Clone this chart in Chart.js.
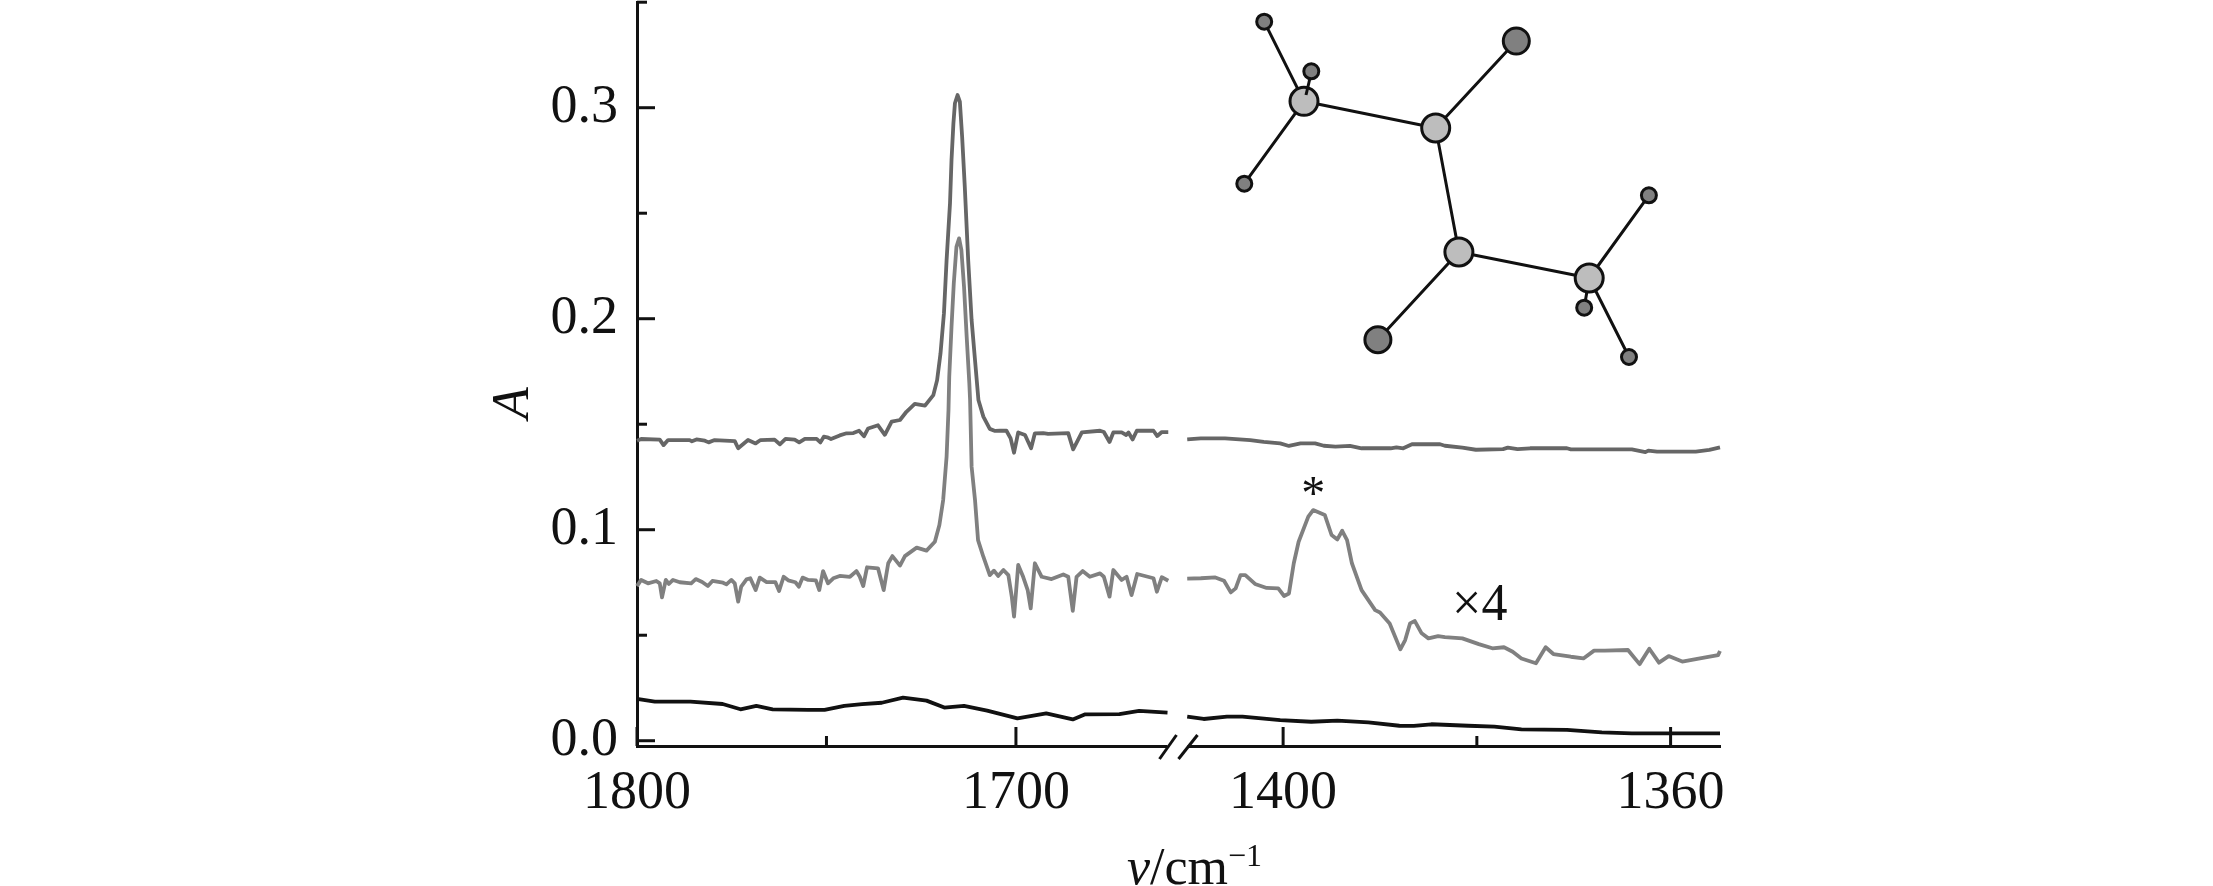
<!DOCTYPE html>
<html>
<head>
<meta charset="utf-8">
<title>IR spectrum</title>
<script src="https://cdn.jsdelivr.net/npm/chart.js@4/dist/chart.umd.min.js"></script>
<style>
    html, body { margin: 0; padding: 0; background: #fff; }
    canvas { display: block; }
</style>
</head>
<body>
<canvas id="chart" width="2213" height="886"></canvas>
<script>
// --- DATA: spectra, left panel (1800-1660) and right panel (1410-1355) ---
const nuTopLeft = [1800, 1798.9, 1794, 1793, 1791.8, 1786.1, 1785.5, 1784.3, 1782.1, 1781.1, 1779.5, 1774.2, 1773.3, 1770.7, 1768.7, 1767.4, 1763.7, 1762.3, 1760.8, 1758.4, 1757.2, 1755.7, 1752.6, 1751.6, 1750.7, 1749.8, 1748.8, 1746.5, 1744.7, 1742.9, 1741.4, 1740.1, 1739, 1736.4, 1734.6, 1732.8, 1730.6, 1728.9, 1726.7, 1724, 1721.8, 1720.8, 1719.9, 1719, 1718.3, 1717.4, 1717, 1716.5, 1716.1, 1715.4, 1714.8, 1714.2, 1713.5, 1712.6, 1711.7, 1710.8, 1709.9, 1708.6, 1706.9, 1705.5, 1704.2, 1702.5, 1701.4, 1700.5, 1699.4, 1697.6, 1696, 1695, 1692.8, 1691.5, 1686.2, 1684.9, 1682.6, 1677.8, 1676.8, 1675.3, 1674.3, 1672.1, 1670.9, 1670.3, 1669.2, 1668.1, 1663.7, 1662.7, 1661.5, 1659.8];
const aTopLeft = [.1422, .143, .1427, .1401, .1425, .1425, .1419, .1428, .1422, .1414, .1425, .142, .1386, .1425, .1409, .1425, .1427, .1405, .1431, .1427, .1414, .1431, .1431, .1414, .1441, .1438, .143, .1447, .1457, .1458, .1469, .1443, .148, .1495, .145, .1512, .152, .1559, .1596, .1588, .1638, .1709, .1836, .2025, .2278, .2547, .2752, .2926, .3021, .306, .3029, .2863, .2626, .2278, .1994, .1804, .1615, .1536, .1478, .1468, .1469, .1469, .1433, .1365, .1461, .1449, .1386, .1457, .1458, .1454, .1458, .1381, .1461, .1469, .1463, .1416, .1461, .1461, .1449, .1461, .1428, .1469, .1469, .1444, .1463, .1463];

const nuMidLeft = [1800, 1798.9, 1797.1, 1794.9, 1794, 1793.4, 1792.4, 1791.6, 1790.5, 1788.7, 1785.7, 1784.5, 1782.8, 1781.3, 1780.1, 1777.3, 1776.4, 1775.1, 1774.2, 1773.3, 1772.5, 1771.1, 1770.1, 1768.7, 1767.6, 1765.8, 1763.5, 1762.5, 1761.3, 1760.1, 1758.2, 1757.3, 1756.3, 1754.8, 1752.8, 1751.9, 1750.9, 1749.6, 1748.2, 1746.5, 1743.8, 1742.1, 1741.2, 1740.3, 1739.3, 1736.4, 1734.9, 1733.7, 1732.6, 1730.6, 1729.3, 1726.2, 1723.6, 1721.4, 1720.2, 1719.2, 1718.3, 1717.8, 1717.6, 1717, 1716.4, 1715.7, 1715, 1714.4, 1713.7, 1713, 1712.3, 1712.1, 1711.7, 1710.8, 1710, 1708.6, 1706.9, 1705.8, 1704.7, 1703.3, 1702, 1701.1, 1700.5, 1699.4, 1698.1, 1696.9, 1696.1, 1695, 1693.2, 1690.6, 1687.5, 1686.2, 1685, 1684, 1682.4, 1680.5, 1677.8, 1676.8, 1675.3, 1674.3, 1672.1, 1670.8, 1669.5, 1668, 1663.7, 1662.8, 1661.5, 1659.8];
const aMidLeft = [.0733, .0762, .0746, .0757, .0746, .0679, .0762, .0743, .0762, .0751, .0746, .0766, .0752, .0733, .0757, .0749, .0741, .0762, .0746, .0659, .073, .0765, .077, .0714, .0773, .0752, .0752, .071, .0777, .076, .0751, .073, .0773, .0762, .076, .0714, .0804, .0746, .077, .0781, .0777, .0804, .0777, .0733, .0822, .0817, .0714, .0841, .0875, .083, .0875, .0915, .0901, .0943, .1022, .1141, .1346, .1567, .1725, .1962, .2168, .2341, .2381, .2326, .2152, .1915, .1694, .1615, .1299, .1141, .0951, .0872, .0785, .0806, .0781, .0809, .0785, .0683, .0588, .0833, .0777, .0714, .0627, .0841, .0777, .0766, .0788, .0777, .0616, .0777, .0804, .0777, .0793, .0777, .0683, .0809, .0762, .0777, .069, .079, .077, .0706, .0775, .0758];

const nuLowLeft = [1800, 1795.3, 1785.9, 1777.4, 1772.7, 1768.5, 1764.2, 1754.8, 1750.5, 1745.3, 1740.6, 1735.4, 1729.8, 1723.6, 1718.9, 1713.7, 1707.6, 1699.6, 1692, 1685, 1681.7, 1672.7, 1667.5, 1660];
const aLowLeft = [.0198, .0185, .0185, .0174, .0149, .0165, .0149, .0146, .0146, .0165, .0173, .018, .0204, .019, .0157, .0165, .0143, .0106, .013, .0101, .0125, .0126, .0141, .0133];

const nuTopRight = [1409.9, 1408.5, 1406, 1403.4, 1402, 1400.3, 1399.4, 1398.2, 1396.7, 1395.8, 1394.6, 1393.1, 1391.9, 1388.9, 1388.3, 1387.6, 1386.7, 1383.8, 1383.3, 1381.5, 1380.1, 1377.3, 1376.8, 1375.8, 1374.5, 1370.7, 1370.3, 1364, 1362.6, 1362.3, 1361.4, 1357.4, 1356, 1354.9];
const aTopRight = [.1428, .1433, .1433, .1425, .1416, .1409, .1397, .1409, .1409, .1398, .1394, .1397, .1386, .1386, .139, .1386, .1405, .1405, .1398, .1389, .1379, .1382, .1389, .1382, .1386, .1386, .1381, .1381, .1368, .1375, .137, .137, .1378, .139];

const nuMidRight = [1409.9, 1408.5, 1407, 1406.1, 1405.4, 1404.9, 1404.4, 1403.9, 1402.9, 1401.7, 1400.5, 1399.9, 1399.4, 1398.9, 1398.4, 1397.4, 1396.9, 1395.7, 1395, 1394.4, 1393.9, 1393.4, 1392.9, 1391.9, 1390.5, 1390, 1389, 1387.9, 1387.4, 1386.9, 1386.4, 1385.7, 1385, 1384, 1383.3, 1381.5, 1379.8, 1378.4, 1377.2, 1376.3, 1375.4, 1373.9, 1372.9, 1372.1, 1370.3, 1369, 1367.9, 1366.8, 1364.4, 1363.2, 1362.2, 1361.2, 1360.2, 1358.8, 1356.4, 1355.1, 1354.9];
const aMidRight = [.0768, .077, .0774, .0758, .0703, .0722, .0785, .0785, .0743, .0724, .0722, .0686, .0698, .0841, .0943, .1062, .1093, .107, .0975, .0954, .0995, .0951, .0841, .0714, .0619, .0608, .0556, .0433, .0477, .0556, .0567, .0509, .0485, .0496, .0491, .0485, .0458, .0438, .0443, .0422, .039, .0367, .0443, .0411, .0398, .039, .0427, .0427, .043, .0363, .0436, .037, .0401, .0375, .0395, .0406, .0425];

const nuLowRight = [1409.9, 1408.2, 1405.8, 1404.2, 1400.3, 1397.1, 1394.4, 1391.2, 1388, 1386.5, 1384.7, 1380.9, 1378.2, 1375.4, 1370.7, 1367.1, 1364, 1354.9];
const aLowRight = [.0114, .0103, .0114, .0114, .0098, .009, .0095, .0087, .0071, .007, .0078, .0071, .0067, .0054, .0051, .004, .0035, .0035];

// --- DATA: ticks ---
const xLeftTicks = [1800, 1750, 1700];
const xLeftLabels = [1800, 1700];
const xRightTicks = [1400, 1380, 1360];
const xRightLabels = [1400, 1360];
const yTicks = [0, 0.05, 0.1, 0.15, 0.2, 0.25, 0.3, 0.35];
const yLabels = [0, 0.1, 0.2, 0.3];

// --- DATA: molecule inset (own 0-1083 / 0-744 frame) ---
const atomNames = ['C1', 'C2', 'C3', 'C4', 'O1', 'O2', 'H1', 'H2', 'H3', 'H4', 'H5', 'H6'];
const atomX = [667, 798.7, 821.9, 952.2, 879.3, 740.9, 627.2, 674.3, 607.3, 1011.9, 947.2, 992];
const atomY = [99.3, 126, 250, 276, 39, 337.7, 19.7, 69.3, 181.7, 193.3, 305.7, 355];
const bonds = [['H1', 'C1'], ['H3', 'C1'], ['C1', 'C2'], ['C2', 'O1'], ['C2', 'C3'], ['C3', 'O2'], ['C3', 'C4'], ['C4', 'H4'], ['C4', 'H5'], ['C4', 'H6']];
const frontBondX = [673, 669];
const frontBondY = [76, 93];

const FONT = '"Liberation Serif", "Times New Roman", serif';
const INK = '#111';

function points(xs, ys) {
    return xs.map((x, i) => ({ x: x, y: ys[i] }));
}

function spectrum(xs, ys, color, axis, order) {
    return {
        data: points(xs, ys), xAxisID: axis, yAxisID: 'y', order: order,
        borderColor: color, borderWidth: 3.8, pointRadius: 0, tension: 0,
        borderJoinStyle: 'round', clip: false
    };
}

const atomPoint = name => {
    const i = atomNames.indexOf(name);
    return { x: atomX[i], y: atomY[i] };
};
const bondPoints = [];
bonds.forEach(b => bondPoints.push(atomPoint(b[0]), atomPoint(b[1]), { x: null, y: null }));

// --- PLUGIN: inner ticks, axis break and the mixed-style text ---
const decorations = {
    id: 'decorations',
    afterDraw(chart) {
        const ctx = chart.ctx;
        const { x, x2, y } = chart.scales;
        const bottom = chart.chartArea.bottom;
        const left = chart.chartArea.left;
        ctx.save();

        // ticks point into the plot, labelled ones are longer
        ctx.strokeStyle = INK;
        ctx.lineWidth = 3;
        [x, x2].forEach(scale => scale.ticks.forEach(t => {
            const px = scale.getPixelForValue(t.value);
            ctx.beginPath();
            ctx.moveTo(px, bottom);
            ctx.lineTo(px, bottom - (t.label ? 19 : 10));
            ctx.stroke();
        }));
        y.ticks.forEach(t => {
            const py = y.getPixelForValue(t.value);
            ctx.beginPath();
            ctx.moveTo(left, py);
            ctx.lineTo(left + (t.label ? 18 : 10), py);
            ctx.stroke();
        });

        // axis break
        const b = x.right;
        ctx.fillStyle = '#fff';
        ctx.fillRect(b - 11, bottom - 3, 20, 6);
        [[-19, -2], [0, 19]].forEach(s => {
            ctx.beginPath();
            ctx.moveTo(b + s[0], bottom + 13);
            ctx.lineTo(b + s[1], bottom - 11);
            ctx.stroke();
        });

        // annotations on the curve
        ctx.fillStyle = INK;
        ctx.textBaseline = 'alphabetic';
        ctx.textAlign = 'center';
        ctx.font = `48px ${FONT}`;
        ctx.fillText('*', x2.getPixelForValue(1396.9), y.getPixelForValue(0.1097));
        ctx.font = `52px ${FONT}`;
        ctx.fillText('×4', x2.getPixelForValue(1379.7), y.getPixelForValue(0.0572));

        // y title
        ctx.save();
        ctx.translate(528, 403);
        ctx.rotate(-Math.PI / 2);
        ctx.font = `italic 52px ${FONT}`;
        ctx.fillText('A', 0, 0);
        ctx.restore();

        // x title
        ctx.textAlign = 'left';
        let tx = 1127;
        const ty = 884;
        ctx.font = `italic 52px ${FONT}`;
        ctx.fillText('ν', tx, ty);
        tx += ctx.measureText('ν').width;
        ctx.font = `52px ${FONT}`;
        ctx.fillText('/cm', tx, ty);
        tx += ctx.measureText('/cm').width;
        ctx.font = `32px ${FONT}`;
        ctx.fillText('−1', tx, ty - 18);
        ctx.restore();
    }
};

// the empty labels still ask for room, so drop the padding the scale computed
function fixPadding(scale) {
    scale.paddingTop = 0;
    scale.paddingBottom = 0;
    scale.paddingLeft = 0;
    scale.paddingRight = 0;
}

function xScale(min, max, ticks, labels) {
    return {
        type: 'linear', position: 'bottom', stack: 'wavenumber', stackWeight: 1,
        reverse: true, min: min, max: max, offset: false,
        grid: { display: false, drawTicks: false },
        border: { display: true, color: INK, width: 3 },
        afterBuildTicks: scale => { scale.ticks = ticks.map(v => ({ value: v })); },
        afterFit: scale => { scale.height = 140; fixPadding(scale); },
        ticks: {
            autoSkip: false, maxRotation: 0, padding: 15, color: INK,
            font: { family: FONT, size: 54 },
            callback: v => labels.includes(v) ? String(v) : ''
        }
    };
}

new Chart(document.getElementById('chart'), {
    type: 'line',
    data: {
        datasets: [
            spectrum(nuTopLeft, aTopLeft, '#666', 'x', 4),
            spectrum(nuMidLeft, aMidLeft, '#808080', 'x', 3),
            spectrum(nuLowLeft, aLowLeft, INK, 'x', 3),
            spectrum(nuTopRight, aTopRight, '#666', 'x2', 4),
            spectrum(nuMidRight, aMidRight, '#808080', 'x2', 3),
            spectrum(nuLowRight, aLowRight, INK, 'x2', 3),
            {
                data: bondPoints, xAxisID: 'mx', yAxisID: 'my', borderColor: INK, order: 2,
                borderWidth: 3, pointRadius: 0, spanGaps: false, clip: false
            },
            {
                data: points(atomX, atomY), xAxisID: 'mx', yAxisID: 'my', showLine: false, clip: false, order: 1,
                pointRadius: atomNames.map(n => n[0] === 'H' ? 7.5 : n[0] === 'O' ? 13 : 14),
                pointBackgroundColor: atomNames.map(n => n[0] === 'C' ? '#bdbdbd' : '#808080'),
                pointBorderColor: INK, pointBorderWidth: 3
            },
            {
                data: points(frontBondX, frontBondY), xAxisID: 'mx', yAxisID: 'my', borderColor: INK, order: 0,
                borderWidth: 3, pointRadius: 0, clip: false
            }
        ]
    },
    options: {
        responsive: false,
        animation: false,
        events: [],
        // autoPadding would push the top down by the biggest atom radius
        layout: { autoPadding: false, padding: { left: 485, top: 2, right: 493, bottom: 0 } },
        plugins: { legend: { display: false }, tooltip: { enabled: false } },
        scales: {
            x: xScale(1657.1, 1800, xLeftTicks, xLeftLabels),
            x2: xScale(1354.9, 1410.8, xRightTicks, xRightLabels),
            y: {
                type: 'linear', position: 'left', min: -0.0025, max: 0.3501,
                grid: { display: false, drawTicks: false },
                border: { display: true, color: INK, width: 3 },
                afterBuildTicks: scale => { scale.ticks = yTicks.map(v => ({ value: v })); },
                afterFit: scale => { scale.width = 152; fixPadding(scale); },
                ticks: {
                    autoSkip: false, padding: 19, color: INK,
                    font: { family: FONT, size: 54 },
                    callback: v => yLabels.includes(v) ? v.toFixed(1) : ''
                }
            },
            mx: { type: 'linear', axis: 'x', display: false, min: 0, max: 1083 },
            my: { type: 'linear', axis: 'y', display: false, min: 0, max: 744, reverse: true }
        }
    },
    plugins: [decorations]
});
</script>
</body>
</html>
